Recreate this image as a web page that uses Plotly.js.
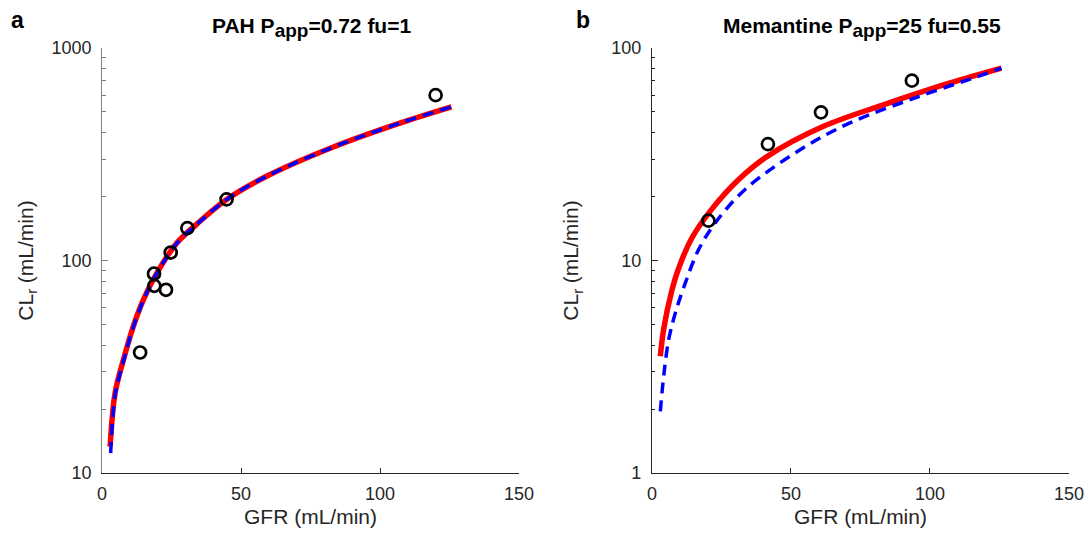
<!DOCTYPE html>
<html>
<head>
<meta charset="utf-8">
<script src="https://cdn.plot.ly/plotly-3.0.1.min.js"></script>
<style>html,body{margin:0;padding:0;background:#fff;}#chart{width:1089px;height:534px;}</style>
</head>
<body>
<div id="chart"></div>
<script>
// Panel a: PAH
const pahObsGFR = [13.7, 18.7, 18.8, 23.0, 24.7, 30.7, 44.8, 120];
const pahObsCL  = [36.9, 86.7, 76.0, 72.8, 109, 142, 194, 600];
const pahRedGFR = [2.9, 4.7, 7.7, 11.25, 14.85, 19.7, 26.9, 34.0, 44.8, 59.2, 83.2, 107.1, 125.7];
const pahRedCL  = [13.3, 23.8, 34.1, 49.0, 65.3, 87.3, 120.8, 148, 193.7, 249, 342, 443, 528.7];
const pahBlueGFR = [3.1, 4.7, 7.7, 11.25, 14.85, 19.7, 26.9, 34.0, 44.8, 59.2, 83.2, 107.1, 125.7];
const pahBlueCL  = [12.4, 23.2, 33.6, 48.5, 64.8, 87.0, 120.5, 147.6, 193.5, 249, 342, 443, 528.7];

// Panel b: Memantine
const memObsGFR = [20.3, 41.7, 60.8, 93.5];
const memObsCL  = [15.4, 35.3, 49.8, 70.2];
const memRedGFR = [3.0, 4.2, 7.0, 9.6, 14.4, 21.6, 31.1, 41.3, 61.7, 83.2, 107.2, 125.7];
const memRedCL  = [3.54, 4.75, 7.1, 9.2, 12.8, 17.5, 24.0, 30.8, 42.8, 54.0, 68.5, 80.5];
const memBlueGFR = [3.0, 4.2, 6.0, 8.4, 12.0, 16.7, 22.7, 33.5, 53.3, 71.2, 95.2, 119.1, 125.7];
const memBlueCL  = [1.95, 2.85, 4.24, 5.66, 7.84, 11.2, 15.0, 21.6, 33.2, 44.4, 58.6, 74.9, 80.5];

const xTicks = [0, 50, 100, 150];
const SUB = '<sub><span style="font-size:19px">app</span></sub>';
const titleA = "PAH P" + SUB + "=0.72 fu=1";
const titleB = "Memantine P" + SUB + "=25 fu=0.55";
const yTitle = "CL<sub>r</sub> (mL/min)";
const xTitle = "GFR (mL/min)";

const red = {color: '#ff0000', width: 5.5, shape: 'spline', smoothing: 1};
const blue = {color: '#0000ff', width: 3.5, dash: '11px,7px', shape: 'spline', smoothing: 1};
const circ = {symbol: 'circle-open', size: 12, color: '#000', line: {width: 2.7, color: '#000'}};

const traces = [
  {x: pahRedGFR, y: pahRedCL, mode: 'lines', line: red, xaxis: 'x', yaxis: 'y', hoverinfo: 'skip'},
  {x: pahBlueGFR, y: pahBlueCL, mode: 'lines', line: blue, xaxis: 'x', yaxis: 'y', hoverinfo: 'skip'},
  {x: pahObsGFR, y: pahObsCL, mode: 'markers', marker: circ, xaxis: 'x', yaxis: 'y'},
  {x: memRedGFR, y: memRedCL, mode: 'lines', line: red, xaxis: 'x2', yaxis: 'y2', hoverinfo: 'skip'},
  {x: memBlueGFR, y: memBlueCL, mode: 'lines', line: blue, xaxis: 'x2', yaxis: 'y2', hoverinfo: 'skip'},
  {x: memObsGFR, y: memObsCL, mode: 'markers', marker: circ, xaxis: 'x2', yaxis: 'y2'}
];

const FAM = 'Liberation Sans, Arial, sans-serif';
const tickFont = {family: FAM, size: 18, color: '#262626'};
const titleFont = {family: FAM, size: 21, color: '#262626'};

function xAxis(domain, anchor) {
  return {
    domain: domain, anchor: anchor, range: [0, 150], tickvals: xTicks,
    ticks: 'inside', ticklen: 5, tickcolor: '#262626', tickwidth: 1,
    showline: true, linecolor: '#262626', linewidth: 1, mirror: false,
    showgrid: false, zeroline: false, tickfont: tickFont, ticklabelstandoff: 4,
    title: {text: xTitle, font: titleFont, standoff: 6}
  };
}
function yAxis(range, anchor, lineColor, standoff) {
  return {
    domain: [0.1142, 0.9101], anchor: anchor, type: 'log', range: range, dtick: 1,
    ticks: 'inside', ticklen: 6, tickcolor: lineColor, tickwidth: 1,
    minor: {ticks: 'inside', ticklen: 3.5, dtick: 'D1', tickcolor: lineColor, showgrid: false},
    showline: true, linecolor: lineColor, linewidth: 1, mirror: false,
    showgrid: false, zeroline: false, tickfont: tickFont, ticklabelstandoff: 6,
    title: {text: yTitle, font: titleFont, standoff: standoff}
  };
}

const layout = {
  width: 1089, height: 534,
  margin: {l: 0, r: 0, t: 0, b: 0},
  paper_bgcolor: '#fff', plot_bgcolor: '#fff',
  showlegend: false,
  xaxis: xAxis([0.0937, 0.4766], 'y'),
  yaxis: yAxis([1, 3], 'x', '#7f7f7f', 12),
  xaxis2: xAxis([0.5987, 0.9816], 'y2'),
  yaxis2: yAxis([0, 2], 'x2', '#262626', 26),
  annotations: [
    {text: '<b>a</b>', xref: 'paper', yref: 'paper', x: 0.0085, y: 0.962, xanchor: 'left', yanchor: 'middle', showarrow: false, font: {family: FAM, size: 23, color: '#000'}},
    {text: '<b>b</b>', xref: 'paper', yref: 'paper', x: 0.527, y: 0.962, xanchor: 'left', yanchor: 'middle', showarrow: false, font: {family: FAM, size: 23, color: '#000'}},
    {text: '<b>' + titleA + '</b>', xref: 'paper', yref: 'paper', x: 0.2862, y: 0.948, xanchor: 'center', yanchor: 'middle', showarrow: false, font: {family: FAM, size: 21, color: '#000'}},
    {text: '<b>' + titleB + '</b>', xref: 'paper', yref: 'paper', x: 0.792, y: 0.948, xanchor: 'center', yanchor: 'middle', showarrow: false, font: {family: FAM, size: 21, color: '#000'}}
  ]
};

Plotly.newPlot('chart', traces, layout, {displayModeBar: false, staticPlot: true});
</script>
</body>
</html>
